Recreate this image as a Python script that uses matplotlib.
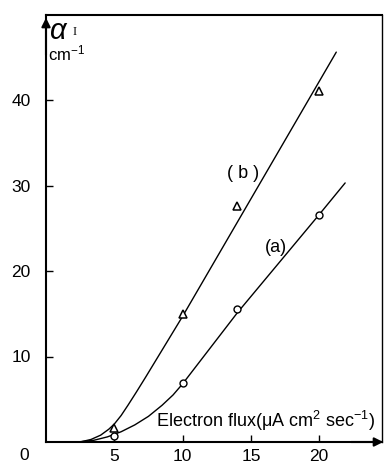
import matplotlib
matplotlib.use("Agg")
import matplotlib.pyplot as plt

plt.rcParams['font.family'] = ['Liberation Sans', 'DejaVu Sans']
plt.rcParams['mathtext.fontset'] = 'custom'
plt.rcParams['mathtext.rm'] = 'Liberation Sans'
plt.rcParams['mathtext.it'] = 'Liberation Sans:italic'
plt.rcParams['mathtext.bf'] = 'Liberation Sans:bold'

# measured points
xa = [5, 10, 14, 20]
ya = [0.7, 6.9, 15.6, 26.6]
xb = [5, 10, 14, 20]
yb = [1.6, 15.0, 27.6, 41.0]

# hand-drawn curves
curve_a_x = [0, 2.3, 3.5, 4.5, 5.5, 6.5, 7.5, 8.5, 9.3, 10, 14, 20, 21.9]
curve_a_y = [0, 0, 0.2, 0.6, 1.2, 2.0, 3.0, 4.3, 5.5, 6.8, 15.1, 26.6, 30.3]
curve_b_x = [2.5, 3.3, 4.0, 4.6, 5.0, 5.5, 6.0, 6.6, 7.3, 10, 21.25]
curve_b_y = [0, 0.3, 0.8, 1.5, 2.1, 3.1, 4.3, 5.8, 7.6, 14.7, 45.6]

xticks = [5, 10, 15, 20]
yticks = [10, 20, 30, 40]

W, H = 386, 466
fig = plt.figure(figsize=(W/100, H/100), dpi=100)
L, R, T, B = 46, 382, 15, 442
ax = fig.add_axes([L/W, 1-B/H, (R-L)/W, (B-T)/H])
ax.set_xlim(0, (R-L)/13.66)
ax.set_ylim(0, (B-T)/8.55)

lw = 1.0
ax.plot(curve_a_x, curve_a_y, color='black', lw=lw, solid_capstyle='round')
ax.plot(curve_b_x, curve_b_y, color='black', lw=lw, solid_capstyle='round')
ax.plot(xa, ya, 'o', mfc='white', mec='black', ms=5, mew=1.0, zorder=3)
ax.plot(xb, yb, '^', mfc='white', mec='black', ms=6, mew=1.1, zorder=3)

for s in ['left', 'bottom', 'top']:
    ax.spines[s].set_linewidth(1.5)
ax.spines['right'].set_linewidth(1.0)

ax.set_xticks(xticks)
ax.set_yticks(yticks)
ax.tick_params(direction='in', length=5, width=1.0, labelsize=12.5)
ax.tick_params(axis='x', pad=5)
ax.tick_params(axis='y', pad=11)
ax.set_xticklabels([str(v) for v in xticks])
ax.set_yticklabels([str(v) for v in yticks])

# "0" origin label
fig.text(24/W, 1-456/H, '0', fontsize=12.5, ha='center', va='center')

# arrows
ax.annotate('', xy=(0, 1.0), xytext=(0, 0.9), xycoords='axes fraction',
            arrowprops=dict(arrowstyle='-|>', color='black', lw=1.5,
                            mutation_scale=13), annotation_clip=False)
ax.annotate('', xy=(1.012, 0), xytext=(0.9, 0), xycoords='axes fraction',
            arrowprops=dict(arrowstyle='-|>', color='black', lw=1.5,
                            mutation_scale=13), annotation_clip=False)

# labels
ax.text(14.45, 31.4, '( b )', fontsize=13, ha='center', va='center')
ax.text(16.8, 22.8, '(a)', fontsize=13, ha='center', va='center')
ax.text(8.05, 2.5, 'Electron flux(\u03bcA cm$^{2}$ sec$^{-1}$)',
        fontsize=13, ha='left', va='center', clip_on=False)

fig.text(49/W, 1-31/H, r'$\alpha$', fontsize=21, ha='left', va='center',
         family='DejaVu Serif')
fig.text(73/W, 1-32/H, 'I', fontsize=9, ha='left', va='center', family='Liberation Serif')
fig.text(48/W, 1-53/H, 'cm$^{-1}$', fontsize=12, ha='left', va='center')

fig.savefig('out.png', dpi=100)
